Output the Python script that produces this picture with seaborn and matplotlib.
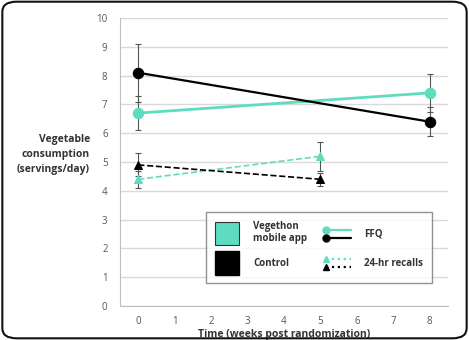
import matplotlib
matplotlib.use("Agg")
import matplotlib.pyplot as plt
import seaborn as sns
import pandas as pd
from matplotlib.patches import Patch, FancyBboxPatch
from matplotlib.lines import Line2D
from matplotlib.legend_handler import HandlerBase

# ---- data ----
ffq_weeks = [0, 8]
ffq_app = [6.7, 7.4]
ffq_app_err = [0.6, 0.65]
ffq_ctrl = [8.1, 6.4]
ffq_ctrl_err = [1.0, 0.5]

recall_weeks = [0, 5]
recall_app = [4.4, 5.2]
recall_app_err = [0.3, 0.5]
recall_ctrl = [4.9, 4.4]
recall_ctrl_err = [0.4, 0.22]

x_ticks = list(range(0, 9))
y_ticks = list(range(0, 11))

TEAL = "#5edcbf"
BLACK = "#000000"

sns.set_style("white")
plt.rcParams["font.family"] = ["Open Sans", "DejaVu Sans"]

fig = plt.figure(figsize=(4.69, 3.40), dpi=100)
ax = fig.add_axes([0.256, 0.10, 0.699, 0.847])

series = [
    (ffq_weeks, ffq_app, ffq_app_err, TEAL, "o", "-", 2.0, 7.5),
    (ffq_weeks, ffq_ctrl, ffq_ctrl_err, BLACK, "o", "-", 1.6, 7.5),
    (recall_weeks, recall_app, recall_app_err, TEAL, "^", "--", 1.2, 6),
    (recall_weeks, recall_ctrl, recall_ctrl_err, BLACK, "^", "--", 1.2, 6),
]
for xs, ys, es, col, mk, ls, lw, ms in series:
    df = pd.DataFrame({"x": xs, "y": ys})
    ax.errorbar(xs, ys, yerr=es, fmt="none", ecolor="#555555", elinewidth=0.8,
                capsize=2, capthick=0.8, zorder=2)
    sns.lineplot(data=df, x="x", y="y", ax=ax, color=col, marker=mk,
                 markersize=ms, markeredgecolor=col, linestyle=ls,
                 linewidth=lw, zorder=3)

ax.set_xlim(-0.5, 8.5)
ax.set_ylim(0, 10)
ax.set_xticks(x_ticks)
ax.set_yticks(y_ticks)
ax.set_xticklabels([str(t) for t in x_ticks])
ax.set_yticklabels([str(t) for t in y_ticks])
ax.yaxis.grid(True, color="#d9d9d9", linewidth=1)
ax.xaxis.grid(False)
for s in ["top", "right"]:
    ax.spines[s].set_visible(False)
ax.spines["left"].set_color("#bfbfbf")
ax.spines["bottom"].set_color("#bfbfbf")
ax.tick_params(axis="both", colors="#bfbfbf", labelcolor="#555555",
               labelsize=7, length=3, width=0.8, direction="out")
ax.tick_params(axis="x", pad=4)
ax.tick_params(axis="y", pad=6)
ax.set_xlabel("Time (weeks post randomization)", fontsize=7.5,
              fontweight="bold", color="#333333", labelpad=1.5)
ax.set_ylabel("")
fig.text(0.192, 0.545, "Vegetable\nconsumption\n(servings/day)", ha="right",
         va="center", fontsize=7.5, fontweight="bold", color="#333333",
         linespacing=1.5)


class Pair:
    def __init__(self, a, b):
        self.a = a
        self.b = b


class PairHandler(HandlerBase):
    def create_artists(self, legend, orig_handle, xdescent, ydescent, width,
                       height, fontsize, trans):
        arts = []
        for h, yf in [(orig_handle.a, 0.68), (orig_handle.b, 0.32)]:
            y = -ydescent + height * yf
            x0 = -xdescent
            ln = Line2D([x0, x0 + width], [y, y], color=h["color"],
                        linestyle=h["ls"], linewidth=1.6, transform=trans)
            mk = Line2D([x0], [y], color=h["color"], marker=h["marker"],
                        markersize=h["ms"], linestyle="none", transform=trans)
            arts += [ln, mk]
        return arts


handles = [
    Patch(facecolor=TEAL, edgecolor="#333333", linewidth=0.8),
    Patch(facecolor=BLACK, edgecolor=BLACK),
    Pair({"color": TEAL, "ls": "-", "marker": "o", "ms": 5},
         {"color": BLACK, "ls": "-", "marker": "o", "ms": 5}),
    Pair({"color": TEAL, "ls": ":", "marker": "^", "ms": 4.5},
         {"color": BLACK, "ls": ":", "marker": "^", "ms": 4.5}),
]
labels = ["Vegethon\nmobile app", "Control", "FFQ", "24-hr recalls"]
leg = ax.legend(handles, labels, ncol=2, loc="lower right",
                bbox_to_anchor=(0.966, 0.062), frameon=True, fancybox=False,
                edgecolor="#777777", fontsize=7, handlelength=2.5,
                handleheight=3.3, labelspacing=0.6, columnspacing=2.0,
                borderpad=0.9, handletextpad=1.4,
                handler_map={Pair: PairHandler()})
leg.get_frame().set_linewidth(1.0)
for t in leg.get_texts():
    t.set_fontweight("bold")
    t.set_color("#333333")

frame = FancyBboxPatch((0.005, 0.005), 0.99, 0.99,
                       boxstyle="round,pad=0,rounding_size=0.03",
                       transform=fig.transFigure, fill=False,
                       edgecolor="#111111", linewidth=1.5)
fig.patches.append(frame)

fig.savefig("out.png", dpi=100)
